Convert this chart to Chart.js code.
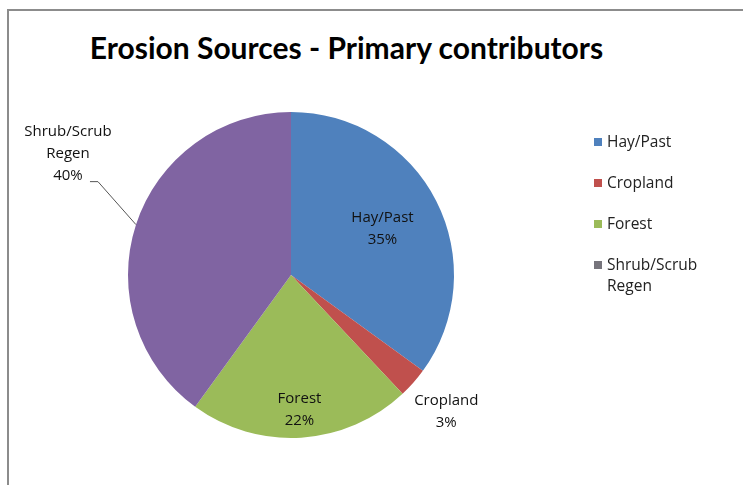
<!DOCTYPE html>
<html lang="en">
<head>
  <meta charset="UTF-8">
  <title>Erosion Sources</title>
  <script src="https://cdn.jsdelivr.net/npm/chart.js"></script>
  <style>
    body { margin: 0; background: #fff; font-family: "Open Sans", sans-serif; }
    #wrap { position: relative; width: 743px; height: 485px; overflow: hidden; }
    #frame { position: absolute; left: 7px; top: 9px; width: 800px; height: 600px; border: 2px solid #8c8c8c; }
    #title { position: absolute; left: 0; width: 693px; top: 29px; text-align: center;
      font-family: Lato, "Open Sans", sans-serif; font-weight: bold; font-size: 30px; color: #000; }
    canvas { position: absolute; left: 0; top: 0; }
    #legend { position: absolute; left: 594px; top: 131px; font-size: 15.5px; color: #222; }
    .item { display: flex; align-items: flex-start; height: 41px; }
    .sw { width: 8px; height: 8px; margin: 7px 5px 0 0; flex: none; }
  </style>
</head>
<body>
  <div id="wrap">
    <div id="frame"></div>
    <div id="title">Erosion Sources - Primary contributors</div>
    <canvas id="pie" width="743" height="485"></canvas>
    <div id="legend"></div>
  </div>

  <script>
    // data
    const categories = ['Hay/Past', 'Cropland', 'Forest', 'Shrub/Scrub Regen'];
    const shares = [35, 3, 22, 40];
    const sliceColors = ['#4f81bd', '#c0504d', '#9bbb59', '#8064a2'];
    const legendColors = ['#4f81bd', '#c0504d', '#9bbb59', '#76747c'];

    // label lines and placement (radial factor of radius, extra px offset)
    const labelLines = [['Hay/Past', '35%'], ['Cropland', '3%'], ['Forest', '22%'], ['Shrub/Scrub', 'Regen', '40%']];
    const labelPlace = [[0.63, 0, 0], [1.27, 0, 0], [0.83, 0, 0], [1.0, -68, -71]];

    const labelPlugin = {
      id: 'sliceLabels',
      afterDatasetsDraw(chart) {
        const ctx = chart.ctx;
        const arcs = chart.getDatasetMeta(0).data;
        ctx.save();
        ctx.font = '15px "Open Sans", sans-serif';
        ctx.fillStyle = '#111';
        ctx.textAlign = 'center';
        ctx.textBaseline = 'middle';
        arcs.forEach((arc, i) => {
          const p = arc.getProps(['x', 'y', 'startAngle', 'endAngle', 'outerRadius'], true);
          const mid = (p.startAngle + p.endAngle) / 2;
          const f = labelPlace[i][0];
          const x = p.x + Math.cos(mid) * p.outerRadius * f + labelPlace[i][1];
          const y = p.y + Math.sin(mid) * p.outerRadius * f + labelPlace[i][2];
          const lines = labelLines[i];
          if (labelPlace[i][1] !== 0) {
            // leader line from slice edge to label
            const ex = p.x + Math.cos(mid) * p.outerRadius;
            const ey = p.y + Math.sin(mid) * p.outerRadius;
            ctx.strokeStyle = '#555';
            ctx.lineWidth = 1;
            ctx.beginPath();
            ctx.moveTo(ex, ey);
            ctx.lineTo(x + 30, y + 28);
            ctx.lineTo(x + 22, y + 28);
            ctx.stroke();
          }
          const lh = 22;
          const y0 = y - (lines.length - 1) * lh / 2;
          lines.forEach((t, k) => ctx.fillText(t, x, y0 + k * lh));
        });
        ctx.restore();
      }
    };

    new Chart(document.getElementById('pie'), {
      type: 'pie',
      data: {
        labels: categories,
        datasets: [{
          data: shares,
          backgroundColor: sliceColors,
          borderWidth: 0
        }]
      },
      options: {
        responsive: false,
        animation: false,
        layout: { padding: { top: 112, bottom: 47, left: 128, right: 289 } },
        plugins: {
          legend: { display: false },
          tooltip: { enabled: false }
        }
      },
      plugins: [labelPlugin]
    });

    // legend
    const legend = document.getElementById('legend');
    categories.forEach((c, i) => {
      const item = document.createElement('div');
      item.className = 'item';
      const words = c === 'Shrub/Scrub Regen' ? 'Shrub/Scrub<br>Regen' : c;
      item.innerHTML = '<span class="sw" style="background:' + legendColors[i] + '"></span><span style="line-height:21px">' + words + '</span>';
      legend.appendChild(item);
    });
  </script>
</body>
</html>
